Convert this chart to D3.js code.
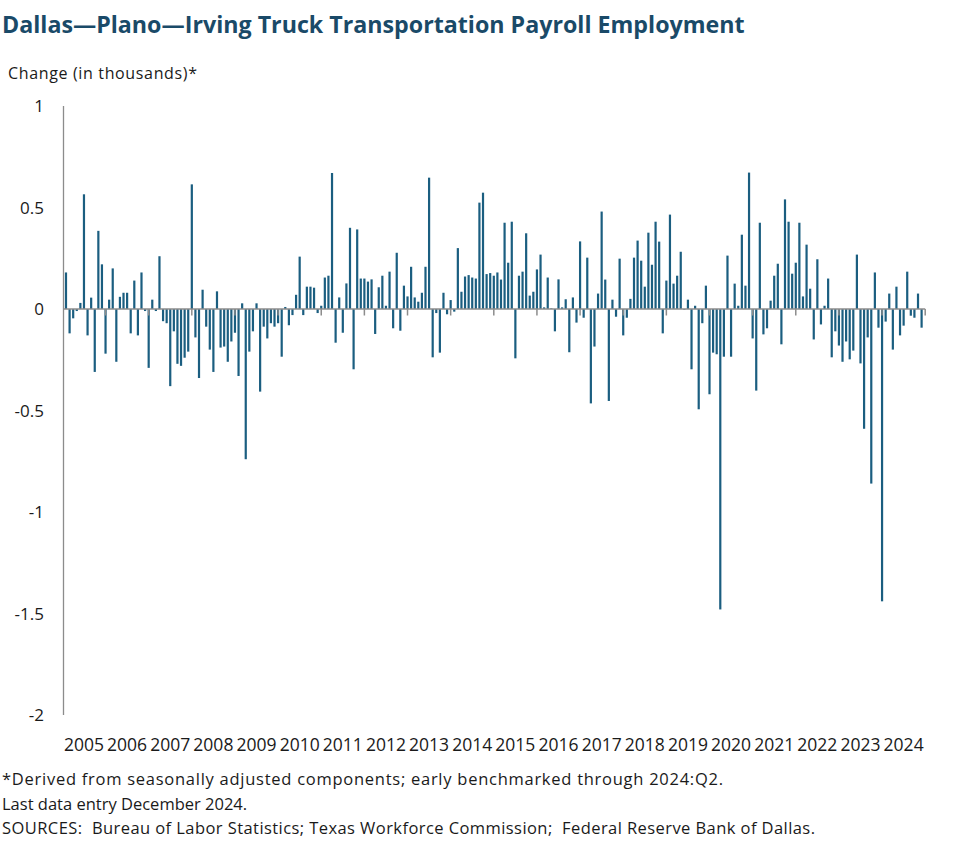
<!DOCTYPE html>
<html>
<head>
<meta charset="utf-8">
<script src="https://cdn.jsdelivr.net/npm/d3@7"></script>
<style>
  html, body { margin: 0; padding: 0; background: #fff; }
  svg { display: block; }
  text { font-family: "Open Sans", sans-serif; }
</style>
</head>
<body>
<svg id="chart" width="977" height="864"></svg>
<script>
// ---- DATA ----
const title = "Dallas\u2014Plano\u2014Irving Truck Transportation Payroll Employment";
const yAxisTitle = "Change (in thousands)*";
const footnotes = [
  "*Derived from seasonally adjusted components; early benchmarked through 2024:Q2.",
  "Last data entry December 2024.",
  "SOURCES:  Bureau of Labor Statistics; Texas Workforce Commission;  Federal Reserve Bank of Dallas."
];
const years = [2005,2006,2007,2008,2009,2010,2011,2012,2013,2014,2015,2016,2017,2018,2019,2020,2021,2022,2023,2024];
const yTicks = [1, 0.5, 0, -0.5, -1, -1.5, -2];
const yTickLabels = ["1", "0.5", "0", "-0.5", "-1", "-1.5", "-2"];
// Monthly change, Feb 2005 - Dec 2024 (thousands)
const values = [
  0.18,-0.12,-0.046,-0.01,0.03,0.565,-0.13,0.056,-0.31,0.385,0.22,
  -0.22,0.046,0.2,-0.26,0.06,0.08,0.08,-0.12,0.14,-0.13,0.18,-0.01,
  -0.29,0.046,-0.01,0.26,-0.06,-0.07,-0.38,-0.11,-0.27,-0.28,-0.24,-0.21,
  0.614,-0.14,-0.34,0.095,-0.087,-0.2,-0.31,0.087,-0.19,-0.185,-0.26,-0.16,
  -0.117,-0.33,0.028,-0.74,-0.21,-0.11,0.028,-0.407,-0.087,-0.145,-0.07,-0.087,
  -0.07,-0.235,0.01,-0.08,-0.03,0.07,0.258,-0.03,0.11,0.11,0.105,-0.02,
  0.016,0.155,0.164,0.67,-0.166,0.057,-0.117,0.126,0.4,-0.297,0.392,0.15,
  0.15,0.135,0.146,-0.123,0.107,0.164,0.016,0.184,-0.095,0.277,-0.107,0.115,
  0.062,0.208,0.057,0.036,0.08,0.208,0.647,-0.238,-0.02,-0.215,0.08,-0.026,
  0.044,-0.013,0.30,0.085,0.16,0.167,0.155,0.15,0.524,0.573,0.172,0.177,
  0.164,0.18,0.145,0.425,0.228,0.43,-0.243,0.164,0.184,0.373,0.066,0.085,
  0.195,0.268,0.008,0.155,0.003,-0.11,0.146,0.008,0.048,-0.213,0.057,-0.067,
  0.333,-0.043,0.253,-0.465,-0.185,0.076,0.48,0.145,-0.453,0.046,-0.038,0.248,
  -0.13,-0.043,0.05,0.253,0.337,0.238,0.11,0.376,0.218,0.43,0.332,-0.12,
  0.14,0.465,0.125,0.164,0.282,-0.003,0.046,-0.297,0.016,-0.494,-0.07,0.115,
  -0.42,-0.215,-0.223,-1.48,-0.235,0.263,-0.235,0.125,0.016,0.366,0.115,0.672,
  -0.145,-0.402,0.425,-0.125,-0.095,0.041,0.164,0.223,-0.174,0.54,0.43,0.174,
  0.228,0.425,0.062,0.317,0.1,-0.15,0.245,-0.076,0.016,0.15,-0.238,-0.11,
  -0.18,-0.26,-0.16,-0.248,-0.205,0.268,-0.268,-0.59,-0.14,-0.86,0.18,-0.092,
  -1.44,-0.062,0.076,-0.2,0.11,-0.13,-0.082,0.184,-0.033,-0.043,0.076,-0.092
];

// ---- LAYOUT ----
const svg = d3.select("#chart");
const barColor = "#1b5e80";
const axisColor = "#8c8c8c";
const titleColor = "#1a4a68";
const textColor = "#1a1a1a";

// month index: 0 = Jan 2005; bars start at index 1 (Feb 2005)
const x = d3.scaleLinear().domain([0, 240]).range([62.4, 62.4 + 3.595 * 240]);
const y = d3.scaleLinear().domain([-2, 1]).range([715, 106]);
const plotLeft = 63.5;
const plotRight = x(240);

const data = values.map((v, i) => ({ m: i + 1, v }));

// Title
const t = svg.append("text")
  .attr("x", 2).attr("y", 33)
  .attr("fill", titleColor)
  .attr("font-weight", "bold")
  .attr("font-size", 22)
  .text(title);
const tw = t.node().getComputedTextLength();
t.attr("font-size", 22 * 743 / tw);

// Y axis title
svg.append("text").attr("x", 8).attr("y", 79)
  .attr("font-size", 16).attr("fill", textColor)
  .attr("textLength", 189).attr("lengthAdjust", "spacing")
  .text(yAxisTitle);

// Y axis line
svg.append("line")
  .attr("x1", plotLeft).attr("x2", plotLeft)
  .attr("y1", y(1)).attr("y2", y(-2))
  .attr("stroke", axisColor).attr("stroke-width", 1.3);

// Y tick labels
svg.append("g").selectAll("text").data(yTicks).join("text")
  .attr("x", 44).attr("y", d => y(d))
  .attr("dy", "0.36em")
  .attr("text-anchor", "end")
  .attr("font-size", 17).attr("fill", textColor)
  .text((d, i) => yTickLabels[i]);

// Bars
const bw = 2.2;
svg.append("g").selectAll("rect").data(data).join("rect")
  .attr("x", d => x(d.m) - bw / 2)
  .attr("width", bw)
  .attr("y", d => d.v >= 0 ? y(d.v) : y(0))
  .attr("height", d => Math.abs(y(d.v) - y(0)))
  .attr("fill", barColor);

// X axis line (zero)
svg.append("line")
  .attr("x1", plotLeft).attr("x2", plotRight)
  .attr("y1", y(0)).attr("y2", y(0))
  .attr("stroke", axisColor).attr("stroke-width", 1.5);

// Year tick marks at January
const tickMonths = years.slice(1).map((yr, i) => (i + 1) * 12).concat([240]);
svg.append("g").selectAll("line").data(tickMonths).join("line")
  .attr("x1", d => x(d)).attr("x2", d => x(d))
  .attr("y1", y(0)).attr("y2", y(0) + 6.5)
  .attr("stroke", axisColor).attr("stroke-width", 1.5);

// Year labels
svg.append("g").selectAll("text").data(years).join("text")
  .attr("x", (d, i) => x(i * 12 + 6))
  .attr("y", 751)
  .attr("text-anchor", "middle")
  .attr("font-size", 17.5).attr("fill", textColor)
  .text(d => d);

// Footnotes
const footWidths = [721, null, 813];
svg.append("g").selectAll("text").data(footnotes).join("text")
  .attr("x", 2)
  .attr("y", (d, i) => 785 + i * 24.5)
  .attr("font-size", 16.5).attr("fill", textColor)
  .attr("textLength", (d, i) => footWidths[i])
  .attr("lengthAdjust", "spacing")
  .style("white-space", "pre")
  .text(d => d);
</script>
</body>
</html>
